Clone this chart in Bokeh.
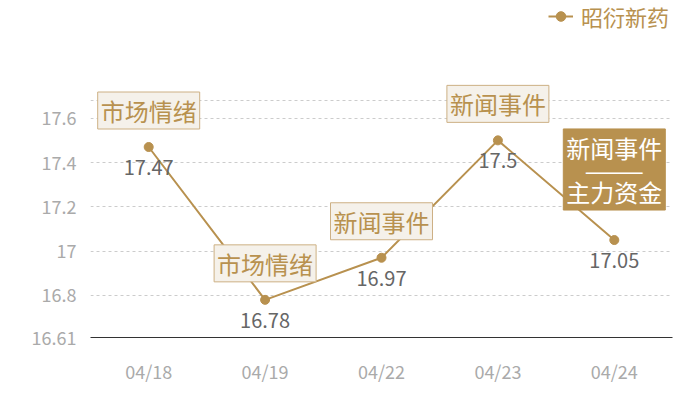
from bokeh.plotting import figure
from bokeh.models import (Range1d, FixedTicker, CustomJSTickFormatter,
                          ColumnDataSource, LabelSet, Label, Legend, LegendItem)
from bokeh.core.properties import value
from bokeh.embed import file_html
from bokeh.resources import INLINE

dates = ["04/18", "04/19", "04/22", "04/23", "04/24"]
values = [17.47, 16.78, 16.97, 17.5, 17.05]
events = ["市场情绪", "市场情绪", "新闻事件", "新闻事件", "新闻事件\n———\n主力资金"]
highlight = [False, False, False, False, True]
y_ticks = [16.61, 16.8, 17.0, 17.2, 17.4, 17.6]
y_min, y_max = 16.61, 17.68
series_name = "昭衍新药"

TAN = "#b8914f"
FONT = "Noto Sans CJK SC"

xs = list(range(len(dates)))

# plotting area: gridded part is 237px tall, with 100px of free space above it
GRID_H, TOP_SPACE = 237, 100
y_top = y_max + (y_max - y_min) * TOP_SPACE / GRID_H

p = figure(width=700, height=400, output_backend="svg", toolbar_location=None,
           x_range=Range1d(-0.5, len(dates) - 0.5),
           y_range=Range1d(y_min, y_top),
           min_border_left=90, min_border_right=28, min_border_top=0, min_border_bottom=63)
p.outline_line_color = None
p.background_fill_color = "white"

# axes
p.xaxis.ticker = FixedTicker(ticks=xs)
p.xaxis.major_label_overrides = {i: d for i, d in zip(xs, dates)}
p.xaxis.axis_line_color = "#333333"
p.xaxis.major_tick_line_color = None
p.xaxis.minor_tick_line_color = None
p.xaxis.major_label_text_color = "#aaaaaa"
p.xaxis.major_label_text_font = FONT
p.xaxis.major_label_text_font_size = "18px"
p.xaxis.major_label_standoff = 14

p.yaxis.axis_line_color = None
p.yaxis.major_tick_line_color = None
p.yaxis.minor_tick_line_color = None
p.yaxis.ticker = FixedTicker(ticks=y_ticks)
p.yaxis.formatter = CustomJSTickFormatter(code="return String(Math.round(tick*100)/100)")
p.yaxis.major_label_text_color = "#aaaaaa"
p.yaxis.major_label_text_font = FONT
p.yaxis.major_label_text_font_size = "18px"
p.yaxis.major_label_standoff = 8

p.xgrid.grid_line_color = None
p.ygrid.ticker = FixedTicker(ticks=y_ticks[1:] + [y_max])
p.ygrid.grid_line_color = "#cccccc"
p.ygrid.grid_line_dash = "3 3"
p.ygrid.grid_line_width = 1

src = ColumnDataSource(dict(x=xs, y=values, t=[str(v) for v in values]))
ln = p.line("x", "y", source=src, line_color=TAN, line_width=2)
sc = p.scatter("x", "y", source=src, size=9, fill_color=TAN, line_color=TAN)

p.add_layout(LabelSet(x="x", y="y", text="t", source=src, y_offset=-13,
                      text_align="center", text_baseline="top",
                      text_color="#666666", text_font=value(FONT), text_font_size="20px"))

for xi, v, e, h in zip(xs, values, events, highlight):
    p.add_layout(Label(x=xi, y=v, y_offset=30 if h else 18, text=e,
                       text_align="center", text_baseline="bottom",
                       text_font=FONT, text_font_size="24px",
                       text_line_height=0.63,
                       text_color="white" if h else TAN,
                       background_fill_color=TAN if h else "#f5f1ea",
                       border_line_color=TAN if h else "#cdb084",
                       border_line_width=1,
                       padding=(3, 1)))

legend = Legend(items=[LegendItem(label=series_name, renderers=[ln, sc])],
                location=(458, 305), orientation="horizontal",
                padding=0, margin=0, spacing=0,
                glyph_width=25, glyph_height=24, label_height=24, label_standoff=8,
                label_text_font=FONT, label_text_font_size="22px", label_text_color=TAN,
                background_fill_alpha=0, border_line_color=None)
p.add_layout(legend, "center")

open("out.html", "w").write(file_html(p, INLINE))
